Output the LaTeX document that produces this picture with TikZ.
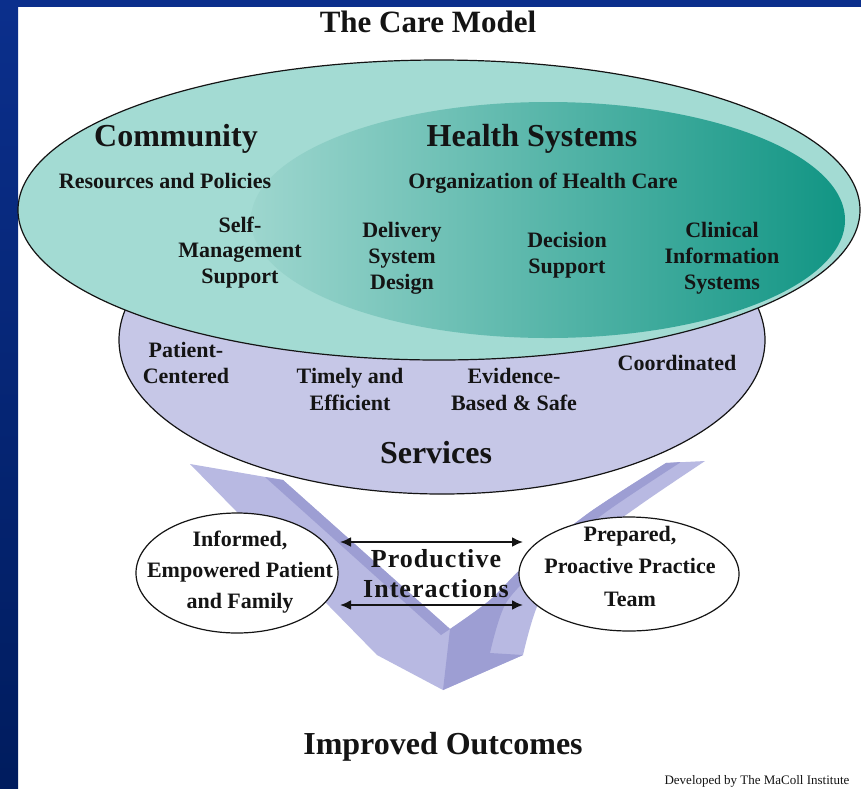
\documentclass[tikz,border=0pt]{standalone}
\usepackage{fontspec}
\setmainfont{Liberation Serif}
\usetikzlibrary{shapes.geometric,arrows.meta}
\definecolor{navyT}{HTML}{0B2F8C}
\definecolor{navyB}{HTML}{001C5E}
\definecolor{tealOut}{HTML}{A3DBD3}
\definecolor{tealInL}{HTML}{9DD6CE}
\definecolor{tealInR}{HTML}{119584}
\definecolor{lav}{HTML}{C6C7E7}
\definecolor{chevL}{HTML}{B8B9E2}
\definecolor{chevD}{HTML}{9D9ED3}
\definecolor{ink}{HTML}{141414}
\tikzset{
  lbl/.style={font=\bfseries\fontsize{22}{26}\selectfont, text=ink, align=center, inner sep=0pt, anchor=base},
  big/.style={font=\bfseries\fontsize{32}{36}\selectfont, text=ink, inner sep=0pt, anchor=base},
  oval/.style={ellipse, draw=ink, line width=1.2pt, fill=white, inner sep=0pt},
  dbl/.style={{Latex[length=11pt,width=10pt]}-{Latex[length=11pt,width=10pt]}, line width=2pt, draw=ink}
}
\begin{document}
\begin{tikzpicture}[x=1pt,y=-1pt]
\useasboundingbox (0,0) rectangle (861,788);
\fill[white] (0,0) rectangle (861,788);
\fill[top color=navyT, bottom color=navyB] (0,0) rectangle (18,788);
\fill[navyT] (0,0) rectangle (861,7);

% chevron
\fill[chevL] (190,464) -- (283,480) -- (450,629)
  -- plot[smooth] coordinates {(450,629) (490,600) (530,560) (590,512) (666,463)}
  -- (705,461)
  -- plot[smooth] coordinates {(705,461) (640,505) (580,550) (540,600) (523,655)}
  -- (443,690) -- (377,655) -- cycle;
\fill[chevD] (265,477) -- (283,480) -- (450,629) -- (441,635) -- cycle;
\fill[chevD] plot[smooth] coordinates {(450,629) (490,600) (530,560) (590,512) (666,463)}
  -- (681,462)
  -- plot[smooth] coordinates {(681,462) (606,512) (546,561) (506,603) (490,653)}
  -- (523,655) -- (443,690) -- cycle;

% ellipses
\node[ellipse, draw=ink, line width=1.2pt, fill=lav, minimum width=646pt, minimum height=308pt, inner sep=0pt] (serv) at (442,340) {};
\node[ellipse, draw=ink, line width=1.2pt, fill=tealOut, minimum width=842pt, minimum height=300pt, inner sep=0pt] (comm) at (439,210) {};
\node[ellipse, left color=tealInL, right color=tealInR, minimum width=594pt, minimum height=236pt, inner sep=0pt] (hs) at (548,220) {};

% title
\node[big, font=\bfseries\fontsize{31}{35}\selectfont] (title) at (428,32) {The Care Model};

% community / health systems
\node[big] (community) at (176,146) {Community};
\node[lbl] (resources) at (165,188) {Resources and Policies};
\node[lbl, font=\bfseries\fontsize{22}{25.5}\selectfont] (selfman) at (240,283) {Self-\\Management\\Support};
\node[big] (health) at (532,146) {Health Systems};
\node[lbl] (org) at (543,188) {Organization of Health Care};
\node[lbl] (delivery) at (402,289) {Delivery\\System\\Design};
\node[lbl] (decision) at (567,273) {Decision\\Support};
\node[lbl] (clinical) at (722,289) {Clinical\\Information\\Systems};

% services
\node[lbl] (patcent) at (186,383) {Patient-\\Centered};
\node[lbl, font=\bfseries\fontsize{22}{27}\selectfont] (timely) at (350,410) {Timely and\\Efficient};
\node[lbl, font=\bfseries\fontsize{22}{27}\selectfont] (evidence) at (514,410) {Evidence-\\Based \& Safe};
\node[lbl] (coord) at (677,370) {Coordinated};
\node[big] (services) at (436,463) {Services};

% patient and team
\node[oval, minimum width=202pt, minimum height=120pt] (patient) at (237,573) {};
\node[oval, minimum width=220pt, minimum height=114pt] (team) at (629,574) {};
\node[lbl, font=\bfseries\fontsize{22}{31}\selectfont] (pattxt) at (240,608) {Informed,\\Empowered Patient\\and Family};
\node[lbl, font=\bfseries\fontsize{22}{32.5}\selectfont] (teamtxt) at (630,606) {Prepared,\\Proactive Practice\\Team};

% productive interactions
\node[lbl, font=\bfseries\fontsize{26}{30}\selectfont\addfontfeature{LetterSpace=4}] (prod) at (436,597) {Productive\\Interactions};
\coordinate (a1l) at (340,542);
\coordinate (a1r) at (523,542);
\coordinate (a2l) at (340,605);
\coordinate (a2r) at (523,605);
\draw[dbl] (a1l) -- (a1r);
\draw[dbl] (a2l) -- (a2r);

% outcomes
\node[big] (outcomes) at (443,754) {Improved Outcomes};
\node[font=\fontsize{13}{15}\selectfont, text=ink, inner sep=0pt, anchor=base] (dev) at (757,784) {Developed by The MaColl Institute};
\end{tikzpicture}
\end{document}
